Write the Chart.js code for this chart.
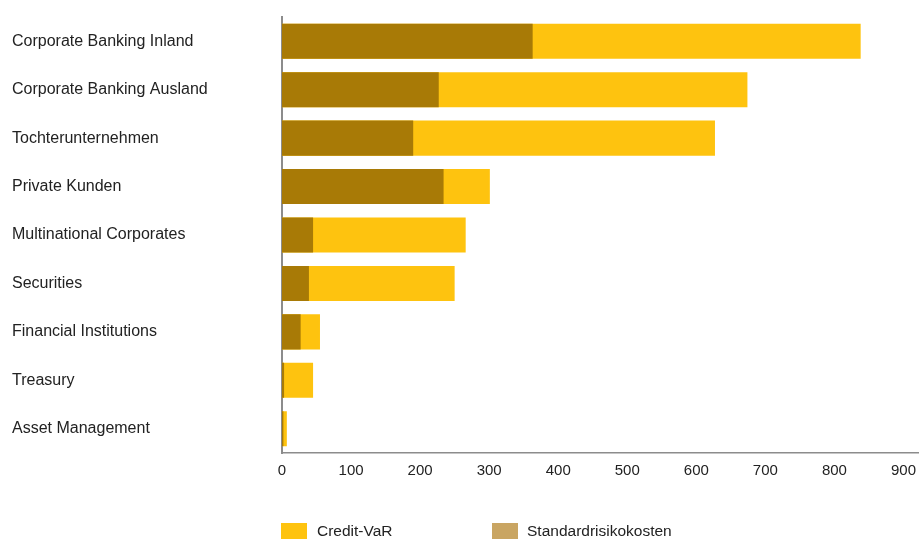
<!DOCTYPE html>
<html>
<head>
<meta charset="utf-8">
<script src="https://cdn.jsdelivr.net/npm/chart.js@4"></script>
<style>
  html, body { margin: 0; padding: 0; background: #fff; overflow: hidden; }
  #wrap { position: relative; width: 919px; height: 539px; overflow: hidden; }
  .leg { position: absolute; top: 523px; font: 15.5px "Liberation Sans", Arial, sans-serif; color: #222; }
  .leg span { position: absolute; top: 0; width: 26px; height: 16px; }
  .leg b { position: absolute; top: -1px; font-weight: normal; white-space: nowrap; }
</style>
</head>
<body>
<div id="wrap">
  <canvas id="barChart" width="925" height="539"></canvas>
  <div class="leg" style="left:281px"><span style="background:#fec30f"></span><b style="left:36px">Credit-VaR</b></div>
  <div class="leg" style="left:492px"><span style="background:#c9a562"></span><b style="left:35px">Standardrisikokosten</b></div>
</div>
<script>
// Kategorien + Werte (Mio. EUR)
const categories = [
  'Corporate Banking Inland',
  'Corporate Banking Ausland',
  'Tochterunternehmen',
  'Private Kunden',
  'Multinational Corporates',
  'Securities',
  'Financial Institutions',
  'Treasury',
  'Asset Management'
];
const creditVaR = [838, 674, 627, 301, 266, 250, 55, 45, 7];
const standardRisk = [363, 227, 190, 234, 45, 39, 27, 3, 2];
const xTicks = [0, 100, 200, 300, 400, 500, 600, 700, 800, 900];

const ctx = document.getElementById('barChart').getContext('2d');
const barChart = new Chart(ctx, {
  type: 'bar',
  data: {
    labels: categories,
    datasets: [
      {
        label: 'Standardrisikokosten',
        data: standardRisk,
        backgroundColor: '#a87a06',
        grouped: false,
        barPercentage: 0.724,
        categoryPercentage: 1
      },
      {
        label: 'Credit-VaR',
        data: creditVaR,
        backgroundColor: '#fec30f',
        grouped: false,
        barPercentage: 0.724,
        categoryPercentage: 1
      }
    ]
  },
  options: {
    indexAxis: 'y',
    responsive: false,
    animation: false,
    layout: { padding: { left: 12, top: 17, right: 0, bottom: 50 } },
    scales: {
      x: {
        min: 0,
        max: 922,
        afterBuildTicks: axis => { axis.ticks = xTicks.map(v => ({ value: v })); },
        grid: { display: false, drawTicks: false },
        border: { display: true, color: '#8c8c8c', width: 1.5 },
        ticks: {
          padding: 9,
          color: '#222',
          font: { family: '"Liberation Sans", Arial, sans-serif', size: 15 }
        }
      },
      y: {
        grid: { display: false, drawTicks: false },
        border: { display: true, color: '#8c8c8c', width: 2 },
        afterFit: axis => { axis.width = 270; },
        ticks: {
          crossAlign: 'far',
          padding: 0,
          color: '#222',
          font: { family: '"Liberation Sans", Arial, sans-serif', size: 16 }
        }
      }
    },
    plugins: {
      legend: { display: false },
      tooltip: { enabled: false }
    }
  }
});
</script>
</body>
</html>
